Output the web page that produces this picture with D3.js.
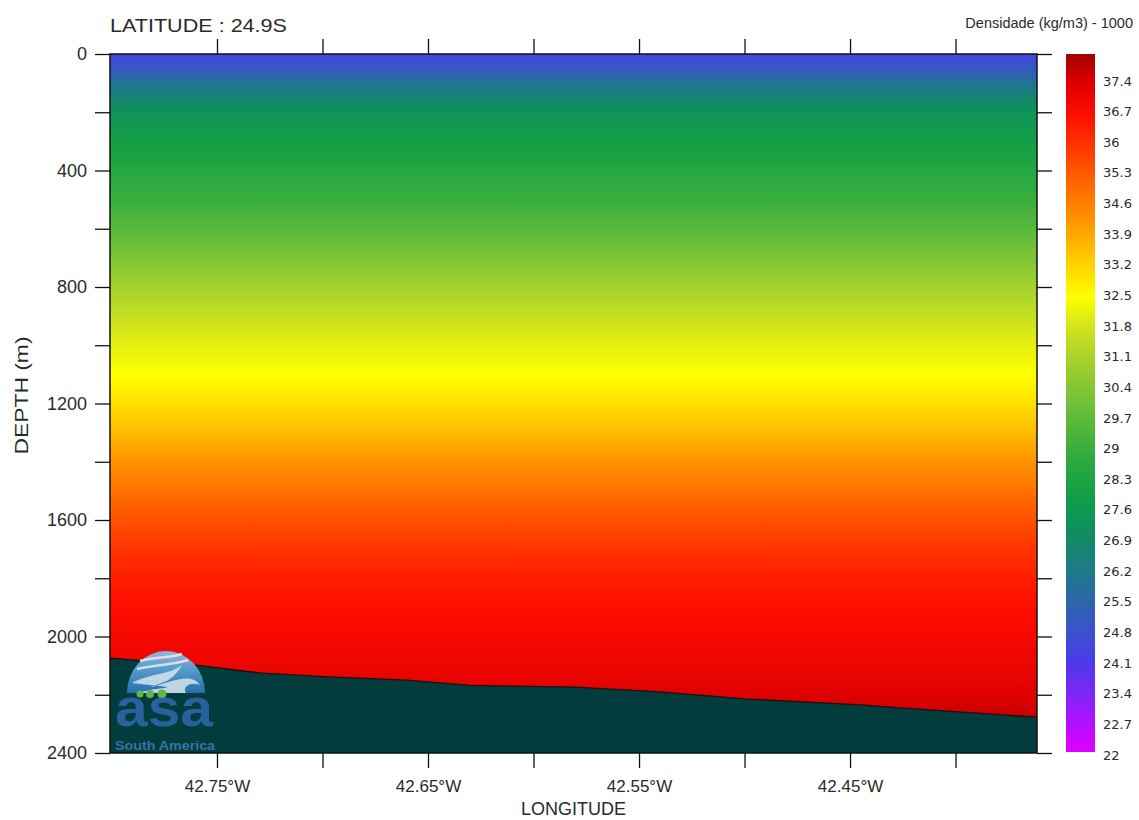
<!DOCTYPE html>
<html>
<head>
<meta charset="utf-8">
<script src="https://cdnjs.cloudflare.com/ajax/libs/d3/7.8.5/d3.min.js"></script>
<style>
  body { margin: 0; background: #fff; }
  text { font-family: "Liberation Sans", Arial, sans-serif; fill: #2a2a2a; }
</style>
</head>
<body>
<svg id="chart" width="1139" height="820"></svg>
<script>

// section extent (longitude in degrees east, depth in m)
const lonRange = [-42.8007, -42.3614];
const depthRange = [0, 2400];

// density profile down the section (kg/m3 - 1000)
const profileDepth   = [0,    50,   100,  150,  200,  300,  400,  500,  600,  700,  800,  900,  1000, 1100, 1200, 1300, 1400, 1500, 1600, 1700, 1800, 1900, 2000, 2100, 2200, 2300];
const profileDensity = [24.3, 25.0, 25.9, 26.7, 27.3, 27.9, 28.5, 29.0, 29.6, 30.3, 31.0, 31.6, 32.1, 32.5, 33.0, 33.6, 34.3, 34.9, 35.5, 36.0, 36.4, 36.7, 36.9, 37.1, 37.4, 37.7];

// sea floor along the section
const floorLon   = [-42.8007, -42.76, -42.73, -42.70, -42.66, -42.63, -42.58, -42.555, -42.54, -42.50, -42.445, -42.43, -42.3614];
const floorDepth = [2074,     2098,   2125,   2138,   2150,   2168,   2174,   2184,    2190,   2214,   2235,    2243,   2277];

// colour bar
const levels = [22, 22.7, 23.4, 24.1, 24.8, 25.5, 26.2, 26.9, 27.6, 28.3, 29, 29.7, 30.4, 31.1, 31.8, 32.5, 33.2, 33.9, 34.6, 35.3, 36, 36.7, 37.4];
const stopValues = [22, 22.7, 23.4, 24.1, 24.8, 25.5, 26.2, 26.9, 27.6, 28.3, 29, 29.7, 30.4, 31.1, 31.8, 32.5, 33.2, 33.9, 34.6, 35.3, 36, 36.7, 37.4, 38.1];
const stopColors = ["#e000ff", "#b010ff", "#7a28f5", "#4a3ce6", "#3b52cc", "#2b67a8", "#1d7a88", "#128a66",
                    "#0c9a4c", "#1da443", "#3aae3e", "#5ebb3a", "#84c635", "#a9d22c", "#d2e41c", "#ffff00",
                    "#ffd400", "#ffaa00", "#ff8200", "#ff5c00", "#ff3400", "#ff0d00", "#e00000", "#a00000"];

// axis ticks
const lonTicks = [-42.75, -42.70, -42.65, -42.60, -42.55, -42.50, -42.45, -42.40];
const lonLabels = [-42.75, -42.65, -42.55, -42.45];
const depthTicks = d3.range(0, 2401, 200);
const depthLabels = [0, 400, 800, 1200, 1600, 2000, 2400];

const svg = d3.select("#chart");
const defs = svg.append("defs");

const x = d3.scaleLinear().domain(lonRange).range([110, 1037]);
const y = d3.scaleLinear().domain(depthRange).range([54, 753]);
const color = d3.scaleLinear().domain(stopValues).range(stopColors);
const cb = d3.scaleLinear().domain([stopValues[0], stopValues[stopValues.length - 1]]).range([752, 54]);
// labels of the colour bar sit a little wider apart than the bins
const cbLabel = d3.scaleLinear().domain([levels[0], levels[levels.length - 1]]).range([755, 81]);

// section shading
const sect = defs.append("linearGradient")
    .attr("id", "sect")
    .attr("gradientUnits", "userSpaceOnUse")
    .attr("x1", 0).attr("x2", 0)
    .attr("y1", y(depthRange[0])).attr("y2", y(depthRange[1]));
sect.selectAll("stop")
    .data(profileDepth)
    .join("stop")
    .attr("offset", (d) => (y(d) - y(depthRange[0])) / (y(depthRange[1]) - y(depthRange[0])))
    .attr("stop-color", (d, i) => color(profileDensity[i]));

defs.append("clipPath").attr("id", "plotClip")
  .append("rect")
    .attr("x", x(lonRange[0])).attr("y", y(depthRange[0]))
    .attr("width", x(lonRange[1]) - x(lonRange[0]))
    .attr("height", y(depthRange[1]) - y(depthRange[0]));

const plot = svg.append("g").attr("clip-path", "url(#plotClip)");

plot.append("rect")
    .attr("x", x(lonRange[0])).attr("y", y(depthRange[0]))
    .attr("width", x(lonRange[1]) - x(lonRange[0]))
    .attr("height", y(depthRange[1]) - y(depthRange[0]))
    .attr("fill", "url(#sect)");

// sea floor
const floor = floorLon.map((d, i) => [d, floorDepth[i]]);
plot.append("path")
    .datum(floor)
    .attr("d", d3.area().x(d => x(d[0])).y0(y(depthRange[1])).y1(d => y(d[1])))
    .attr("fill", "#033c3c");
plot.append("path")
    .datum(floor)
    .attr("d", d3.line().x(d => x(d[0])).y(d => y(d[1])))
    .attr("fill", "none")
    .attr("stroke", "#1a1010")
    .attr("stroke-width", 1.3);

// logo in the lower left corner
const logo = plot.append("g")
    .attr("transform", "translate(" + x(lonRange[0]) + "," + y(depthRange[1]) + ")")
    .attr("opacity", 0.92);
const dome = defs.append("linearGradient").attr("id", "dome")
    .attr("x1", 0).attr("x2", 0).attr("y1", 0).attr("y2", 1);
dome.append("stop").attr("offset", 0).attr("stop-color", "#86c8ee");
dome.append("stop").attr("offset", 1).attr("stop-color", "#2a74b8");
logo.append("path")
    .attr("d", "M17,-60 A39,42 0 0 1 95,-60 Z")
    .attr("fill", "url(#dome)");
logo.append("path")
    .attr("d", "M22,-70 C40,-80 60,-78 72,-88 C62,-70 50,-70 40,-66 C60,-70 80,-82 90,-68 C80,-72 72,-66 76,-60 L28,-60 C40,-64 50,-64 58,-66 Z")
    .attr("fill", "#e8f4fb").attr("opacity", 0.85);
logo.append("path")
    .attr("d", "M30,-92 C45,-96 60,-95 72,-99 M27,-84 C45,-88 62,-88 78,-93")
    .attr("fill", "none").attr("stroke", "#dff2fb").attr("stroke-width", 2.5);
logo.selectAll("circle")
    .data([[30, 3.5], [40, 4], [52, 4.5]])
    .join("circle")
    .attr("cx", d => d[0]).attr("cy", -59)
    .attr("r", d => d[1])
    .attr("fill", "#6cc04a");
logo.append("text")
    .attr("x", 5).attr("y", -27)
    .attr("textLength", 98).attr("lengthAdjust", "spacingAndGlyphs")
    .style("font-size", "54px").style("font-weight", "bold").style("fill", "#2b66a8")
    .text("asa");
logo.append("text")
    .attr("x", 5).attr("y", -3)
    .attr("textLength", 100).attr("lengthAdjust", "spacingAndGlyphs")
    .style("font-size", "12px").style("font-weight", "bold").style("fill", "#3a78b6")
    .text("South America");

// axes
const lonFmt = d => lonLabels.some(v => Math.abs(v - d) < 1e-6) ? Math.abs(d).toFixed(2) + "°W" : "";
const depthFmt = d => depthLabels.includes(d) ? d : "";

function styleAxis(g) {
  g.select(".domain").remove();
  g.selectAll(".tick line").attr("stroke", "#111").attr("stroke-width", 1.3);
  g.selectAll(".tick text").style("fill", "#2a2a2a");
}

svg.append("g")
    .attr("transform", "translate(0," + y(depthRange[1]) + ")")
    .call(d3.axisBottom(x).tickValues(lonTicks).tickSize(15).tickPadding(12).tickFormat(lonFmt))
    .call(styleAxis)
    .selectAll("text").style("font-size", "17px");

svg.append("g")
    .attr("transform", "translate(0," + y(depthRange[0]) + ")")
    .call(d3.axisTop(x).tickValues(lonTicks).tickSize(15).tickFormat(""))
    .call(styleAxis);

svg.append("g")
    .attr("transform", "translate(" + x(lonRange[0]) + ",0)")
    .call(d3.axisLeft(y).tickValues(depthTicks).tickSize(15).tickPadding(8).tickFormat(depthFmt))
    .call(styleAxis)
    .selectAll("text").style("font-size", "18px");

svg.append("g")
    .attr("transform", "translate(" + x(lonRange[1]) + ",0)")
    .call(d3.axisRight(y).tickValues(depthTicks).tickSize(15).tickFormat(""))
    .call(styleAxis);

svg.append("rect")
    .attr("x", x(lonRange[0])).attr("y", y(depthRange[0]))
    .attr("width", x(lonRange[1]) - x(lonRange[0]))
    .attr("height", y(depthRange[1]) - y(depthRange[0]))
    .attr("fill", "none").attr("stroke", "#111").attr("stroke-width", 1.5);

// colour bar
const cbGrad = defs.append("linearGradient")
    .attr("id", "cbGrad")
    .attr("gradientUnits", "userSpaceOnUse")
    .attr("x1", 0).attr("x2", 0)
    .attr("y1", cb(stopValues[0])).attr("y2", cb(stopValues[stopValues.length - 1]));
cbGrad.selectAll("stop")
    .data(stopValues)
    .join("stop")
    .attr("offset", d => (d - stopValues[0]) / (stopValues[stopValues.length - 1] - stopValues[0]))
    .attr("stop-color", d => color(d));

svg.append("rect")
    .attr("x", 1066).attr("width", 29)
    .attr("y", cb(stopValues[stopValues.length - 1]))
    .attr("height", cb(stopValues[0]) - cb(stopValues[stopValues.length - 1]))
    .attr("fill", "url(#cbGrad)");

svg.append("g")
  .selectAll("text")
  .data(levels)
  .join("text")
    .attr("x", 1103)
    .attr("y", d => cbLabel(d))
    .attr("dy", "0.35em")
    .style("font-family", "'DejaVu Sans', sans-serif")
    .style("font-size", "13px")
    .text(d => d);

// titles
svg.append("text")
    .attr("x", 110).attr("y", 32)
    .attr("textLength", 177).attr("lengthAdjust", "spacingAndGlyphs")
    .style("font-size", "19px")
    .text("LATITUDE : 24.9S");

svg.append("text")
    .attr("x", 1133).attr("y", 28)
    .attr("text-anchor", "end")
    .style("font-size", "14.5px")
    .text("Densidade (kg/m3) - 1000");

svg.append("text")
    .attr("x", (x(lonRange[0]) + x(lonRange[1])) / 2).attr("y", 815)
    .attr("text-anchor", "middle")
    .style("font-size", "18px")
    .text("LONGITUDE");

svg.append("text")
    .attr("transform", "translate(28," + ((y(depthRange[0]) + y(depthRange[1])) / 2 - 8) + ") rotate(-90)")
    .attr("text-anchor", "middle")
    .attr("textLength", 118).attr("lengthAdjust", "spacingAndGlyphs")
    .style("font-size", "18px")
    .text("DEPTH (m)");

</script>
</body>
</html>
